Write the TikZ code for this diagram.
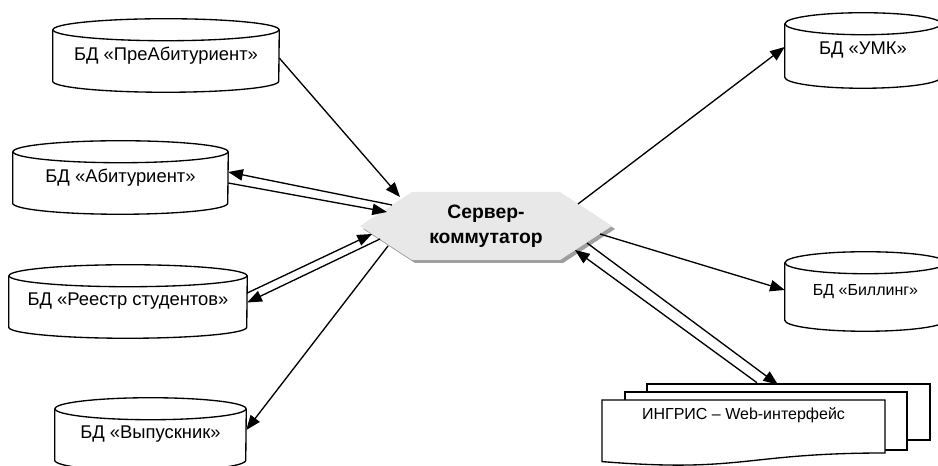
\documentclass[tikz,border=0pt]{standalone}
\usepackage{fontspec}
\setmainfont{Liberation Sans}
\usetikzlibrary{arrows.meta,calc}
\newcommand\drawcyl[2]{%
  \draw[cylline] (#1.north west) -- (#1.south west) arc[start angle=180,end angle=360,x radius=#2/2,y radius=11] -- (#1.north east);
  \draw[cylline] (#1.north) ellipse[x radius=#2/2,y radius=11];
}
\begin{document}
\begin{tikzpicture}[x=0.75pt,y=0.75pt,
  cylline/.style={line width=1pt},
  cyl/.style={inner sep=0pt, font=\fontsize{13.8}{16}\selectfont},
  arr/.style={line width=1pt, -{Triangle[length=11pt,width=8.5pt]}},
  sheet/.style={line width=1pt, fill=white}]
\useasboundingbox[fill=white] (0,0) rectangle (938,466);

% databases
\node[cyl, minimum width=169.5pt, minimum height=38.25pt] (pa) at (166,410.5) {БД «ПреАбитуриент»};
\node[cyl, minimum width=161.25pt, minimum height=38.25pt] (ab) at (120.5,288.5) {БД «Абитуриент»};
\node[cyl, minimum width=178.5pt, minimum height=38.25pt] (re) at (128,164.5) {БД «Реестр студентов»};
\node[cyl, minimum width=143.25pt, minimum height=38.25pt] (vy) at (150.5,31.5) {БД «Выпускник»};
\node[cyl, minimum width=117pt, minimum height=39.75pt] (umk) at (863,415.5) {БД «УМК»};
\node[cyl, minimum width=120.75pt, minimum height=42.75pt, font=\fontsize{12}{14}\selectfont] (bil) at (865.5,174.5) {БД «Биллинг»};
\drawcyl{pa}{226}
\drawcyl{ab}{215}
\drawcyl{re}{238}
\drawcyl{vy}{191}
\drawcyl{umk}{156}
\drawcyl{bil}{161}

% server hexagon with shadow
\fill[gray!75] (363,237) -- (415,271) -- (563,271) -- (615,237) -- (563,203) -- (415,203) -- cycle;
\fill[gray!18] (360,240) -- (412,274) -- (560,274) -- (612,240) -- (560,206) -- (412,206) -- cycle;
\node[font=\bfseries\fontsize{14.5}{18.75}\selectfont, align=center] (srv) at (486,240) {Сервер-\\коммутатор};

% multi-document
\draw[sheet] (647,82) rectangle (930,26);
\draw[sheet] (625,74) rectangle (907,16);
\draw[sheet] (602,66) -- (885,66) -- (885,13) .. controls (743.5,13) and (743.5,-7) .. (602,4.4) -- cycle;
\node[inner sep=0pt, minimum width=212.25pt, text height=15pt, text depth=30pt, font=\fontsize{12}{14}\selectfont] (ing) at (743.5,36) {ИНГРИС – Web-интерфейс};

% connectors
\draw[arr] ($(pa.east)+(0,-2.5)$) -- ($(srv.center)+(-86,29)$);
\draw[arr] ($(srv.center)+(-94,21)$) -- ($(ab.east)+(0,5.5)$);
\draw[arr] ($(ab.east)+(0,-5.5)$) -- ($(srv.center)+(-99,14)$);
\draw[arr] ($(re.east)+(0,8.5)$) -- ($(srv.center)+(-114,-8)$);
\draw[arr] ($(srv.center)+(-106,-13)$) -- ($(re.east)+(0,-1)$);
\draw[arr] ($(srv.center)+(-98,-20)$) -- ($(vy.east)+(0,4.5)$);
\draw[arr] ($(srv.center)+(92,22)$) -- ($(umk.west)+(0,3.5)$);
\draw[arr] ($(srv.center)+(114,-8)$) -- ($(bil.west)+(0,1.5)$);
\draw[arr] ($(ing.north)+(13.5,17)$) -- ($(srv.center)+(89,-24)$);
\draw[arr] ($(srv.center)+(101,-17)$) -- ($(ing.north)+(34.5,15)$);
\end{tikzpicture}
\end{document}
